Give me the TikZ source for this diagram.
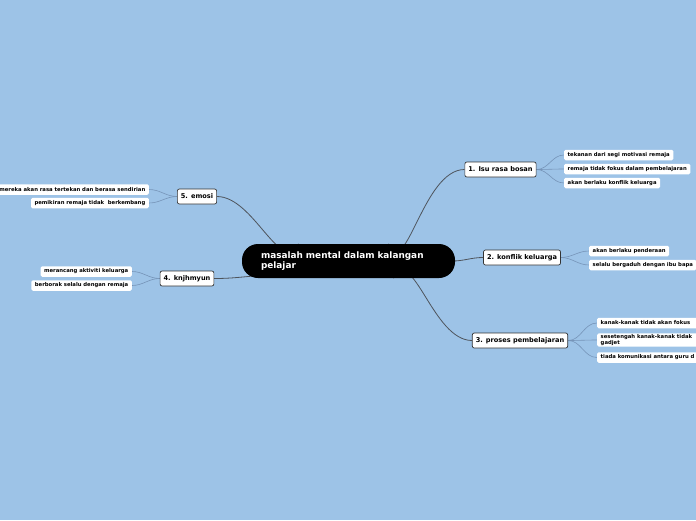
\documentclass[tikz,border=0pt]{standalone}
\usepackage{fontspec}
\setmainfont{DejaVu Sans}
\usetikzlibrary{positioning,backgrounds}
\definecolor{bgblue}{RGB}{157,195,231}
\definecolor{twig}{RGB}{118,148,184}
\definecolor{branch}{RGB}{78,84,92}

\begin{document}
\begin{tikzpicture}[x=1pt,y=-1pt,
    rootbox/.style={fill=black,text=white,rounded corners=16pt,align=left,
      font=\bfseries\fontsize{8.9}{10.2}\selectfont,text width=175pt,
      minimum height=34pt,inner xsep=19pt},
    topic/.style={draw=black!80,fill=white,rounded corners=2pt,line width=0.7pt,
      font=\bfseries\fontsize{6.6}{7.6}\selectfont,minimum height=15pt,inner xsep=3.5pt},
    leaf/.style={fill=white,rounded corners=1.5pt,align=left,
      font=\bfseries\fontsize{5.3}{5.9}\selectfont,minimum height=10.5pt,
      inner xsep=3.5pt,inner ysep=1pt},
    twigline/.style={draw=twig,line width=0.6pt},
    branchline/.style={draw=branch,line width=0.8pt}]
    \useasboundingbox (0,0) rectangle (696,520);

    % centre
    \node[rootbox] (root) at (348.5,261) {masalah mental dalam kalangan\\pelajar};

    % topics
    \node[topic] (n1) at (500.5,169.5) {1. Isu rasa bosan};
    \node[topic] (n2) at (522,257.5) {2. konflik keluarga};
    \node[topic] (n3) at (520,340.5) {3. proses pembelajaran};
    \node[topic] (n4) at (187,278.5) {4. knjhmyun};
    \node[topic] (n5) at (197,196.5) {5. emosi};

    % leaves
    \node[leaf,anchor=west] (l11) at (564,155) {tekanan dari segi motivasi remaja};
    \node[leaf,anchor=west] (l12) at (564,169) {remaja tidak fokus dalam pembelajaran};
    \node[leaf,anchor=west] (l13) at (564,183) {akan berlaku konflik keluarga};

    \node[leaf,anchor=west] (l21) at (589,251) {akan berlaku penderaan};
    \node[leaf,anchor=west] (l22) at (589,265) {selalu bergaduh dengan ibu bapa};

    \node[leaf,anchor=west,text width=110pt] (l31) at (597,323) {kanak-kanak tidak akan fokus};
    \node[leaf,anchor=west,text width=110pt] (l32) at (597,340) {sesetengah kanak-kanak tidak\\gadjet};
    \node[leaf,anchor=west,text width=110pt] (l33) at (597,357.5) {tiada komunikasi antara guru d};

    \node[leaf,anchor=east] (l41) at (132,271.5) {merancang aktiviti keluarga};
    \node[leaf,anchor=east] (l42) at (132,285.5) {berborak selalu dengan remaja};

    \node[leaf,anchor=east] (l51) at (149,189.5) {mereka akan rasa tertekan dan berasa sendirian};
    \node[leaf,anchor=east] (l52) at (149,203) {pemikiran remaja tidak\ \ berkembang};

    \coordinate (r1) at ([xshift=40pt]root.north);
    \coordinate (r3) at ([xshift=45pt]root.south);
    \coordinate (r4) at ([xshift=12pt,yshift=-15pt]root.west);
    \coordinate (r5) at ([xshift=-50pt]root.north);

    \begin{pgfonlayer}{background}
      \fill[bgblue] (0,0) rectangle (696,520);

      \draw[branchline] (r1) to[out=-65,in=180] (n1.west);
      \draw[branchline] ([xshift=-3pt]root.east) to[out=0,in=180] (n2.west);
      \draw[branchline] (r3) to[out=60,in=180] (n3.west);
      \draw[branchline] (r4) to[out=185,in=0] (n4.east);
      \draw[branchline] (r5) to[out=-120,in=0] (n5.east);

      \foreach \l in {l11,l12,l13} \draw[twigline] (n1.east) to[out=0,in=180] (\l.west);
      \foreach \l in {l21,l22} \draw[twigline] (n2.east) to[out=0,in=180] (\l.west);
      \foreach \l in {l31,l32,l33} \draw[twigline] (n3.east) to[out=0,in=180] (\l.west);
      \foreach \l in {l41,l42} \draw[twigline] (n4.west) to[out=180,in=0] (\l.east);
      \foreach \l in {l51,l52} \draw[twigline] (n5.west) to[out=180,in=0] (\l.east);
    \end{pgfonlayer}
\end{tikzpicture}
\end{document}
